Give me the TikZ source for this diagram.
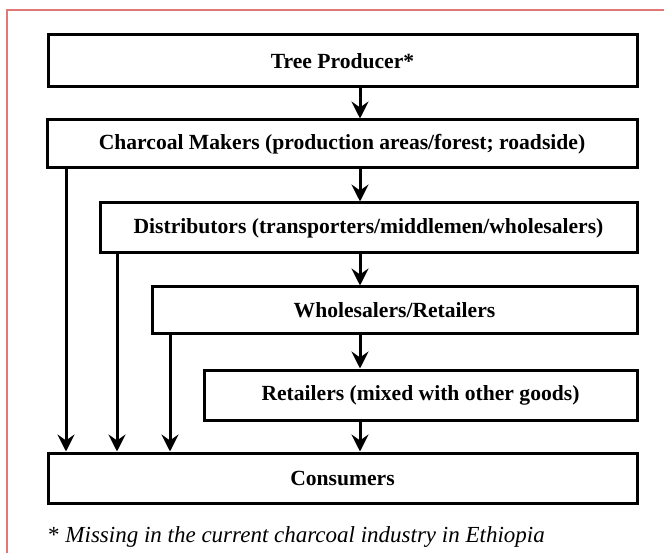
\documentclass[tikz,border=0pt]{standalone}
\usepackage{fontspec}
\setmainfont{Liberation Serif}
\usetikzlibrary{arrows.meta}
\definecolor{marco}{RGB}{224,120,120}
\tikzset{
    caja/.style={draw, line width=3pt, inner sep=0pt, font=\fontsize{21.6}{25}\selectfont\bfseries},
    flecha/.style={line width=3pt, -{Stealth[length=17pt, width=17pt, inset=6pt]}}
}
\begin{document}
\begin{tikzpicture}[x=1pt, y=-1pt]
    \useasboundingbox (0,0) rectangle (664,553);
    % Marco
    \draw[marco, line width=1.8pt] (7,553) -- (7,10) -- (664,10);

    % Cajas
    \node[caja, minimum width=589pt, minimum height=52pt] (tree) at (342.5,61) {Tree Producer*};
    \node[caja, minimum width=590pt, minimum height=48pt] (makers) at (342,144) {Charcoal Makers (production areas/forest; roadside)};
    \node[caja, minimum width=537pt, minimum height=50pt] (distrib) at (368.5,228) {Distributors (transporters/middlemen/wholesalers)};
    \node[caja, minimum width=485pt, minimum height=47pt] (wholesale) at (394.5,310.5) {Wholesalers/Retailers};
    \node[caja, minimum width=433pt, minimum height=50pt] (retail) at (420.5,395) {Retailers (mixed with other goods)};
    \node[caja, minimum width=589pt, minimum height=50pt] (consumers) at (342.5,478) {Consumers};

    % Columnas de las flechas
    \coordinate (eje) at (360,0);
    \coordinate (c1) at (66,0);
    \coordinate (c2) at (117,0);
    \coordinate (c3) at (170,0);

    % Flechas centrales
    \foreach \a/\b in {tree/makers, makers/distrib, distrib/wholesale, wholesale/retail, retail/consumers} {
        \draw[flecha] (\a.south -| eje) -- (\b.north -| eje);
    }
    % Flechas directas a los consumidores
    \foreach \src/\col in {makers/c1, distrib/c2, wholesale/c3} {
        \draw[flecha] (\src.south -| \col) -- (consumers.north -| \col);
    }

    % Nota
    \node[anchor=base west, inner sep=0pt, font=\fontsize{23}{27}\selectfont] (nota) at (48,542) {* \textit{Missing in the current charcoal industry in Ethiopia}};
\end{tikzpicture}
\end{document}
